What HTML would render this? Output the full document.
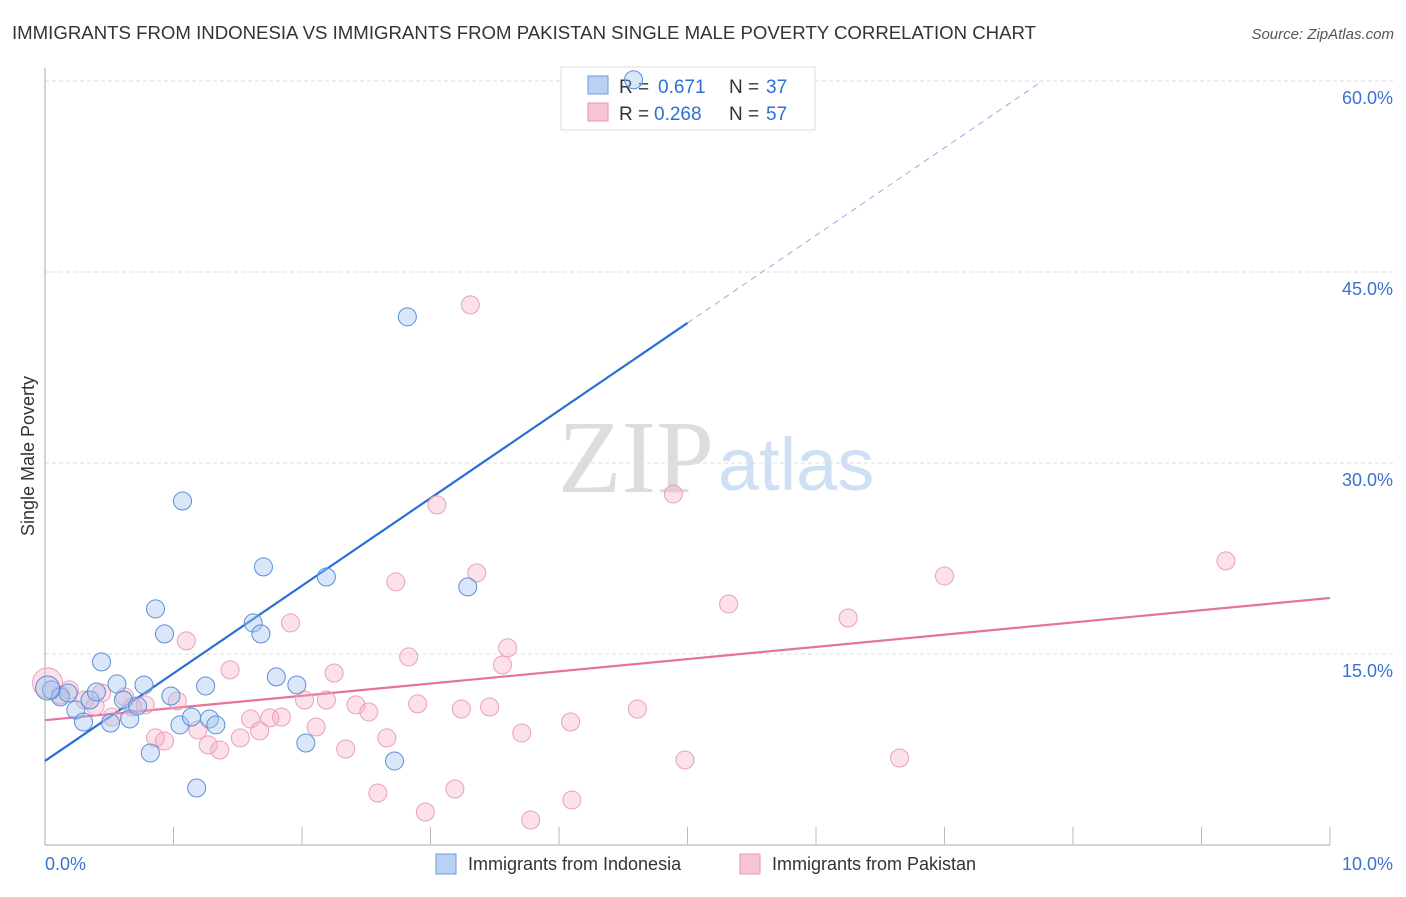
<!DOCTYPE html>
<html><head><meta charset="utf-8"><style>
body{margin:0;background:#fff;font-family:"Liberation Sans",sans-serif}
</style></head><body>
<svg width="1406" height="892" xmlns="http://www.w3.org/2000/svg">
<text x="12" y="39" font-size="18" fill="#333" textLength="1024" lengthAdjust="spacingAndGlyphs">IMMIGRANTS FROM INDONESIA VS IMMIGRANTS FROM PAKISTAN SINGLE MALE POVERTY CORRELATION CHART</text>
<text x="1394" y="39" font-size="15" fill="#555" font-style="italic" text-anchor="end">Source: ZipAtlas.com</text>
<text x="714" y="492" font-size="104" fill="#ddd" text-anchor="end" font-family="Liberation Serif">ZIP</text>
<text x="718" y="490" font-size="74" fill="#cfe0f4">atlas</text>
<g id="grid"></g>
<g id="axes"></g>
<g id="lines"></g>
<g>
<rect x="561" y="67" width="254" height="63" fill="#fff" stroke="#ddd"/>
<rect x="588" y="76" width="20" height="18" fill="#b9d2f4" stroke="#6f9ad8"/>
<rect x="588" y="103" width="20" height="18" fill="#f8c5d5" stroke="#e896b0"/>
<text x="619" y="93" font-size="19" fill="#333">R =</text>
<text x="658" y="93" font-size="19" fill="#2f6fd6">0.671</text>
<text x="729" y="93" font-size="19" fill="#333">N =</text>
<text x="766" y="93" font-size="19" fill="#2f6fd6">37</text>
<text x="619" y="120" font-size="19" fill="#333">R =</text>
<text x="654" y="120" font-size="19" fill="#2f6fd6">0.268</text>
<text x="729" y="120" font-size="19" fill="#333">N =</text>
<text x="766" y="120" font-size="19" fill="#2f6fd6">57</text>
</g>
<g id="pts"></g>
<text transform="translate(34,456) rotate(-90)" font-size="18" fill="#333" text-anchor="middle">Single Male Poverty</text>
<g>
<rect x="436" y="854" width="20" height="20" fill="#b9d2f4" stroke="#6f9ad8"/>
<text x="468" y="870" font-size="18" fill="#333">Immigrants from Indonesia</text>
<rect x="740" y="854" width="20" height="20" fill="#f8c5d5" stroke="#e896b0"/>
<text x="772" y="870" font-size="18" fill="#333">Immigrants from Pakistan</text>
</g>
</svg>
<script>
const yTicks=[15,30,45,60];
const yTickLabels=["15.0%","30.0%","45.0%","60.0%"];
const xEnds=["0.0%","10.0%"];
const indoX=[0.05,0.12,0.18,0.24,0.30,0.35,0.40,0.44,0.51,0.56,0.61,0.66,0.72,0.77,0.82,0.86,0.93,0.98,1.05,1.07,1.14,1.18,1.25,1.28,1.33,1.62,1.68,1.70,1.80,1.96,2.03,2.19,2.72,2.82,3.29,4.58,0.02];
const indoY=[12.18,11.63,11.94,10.60,9.66,11.39,12.02,14.38,9.58,12.65,11.39,9.90,10.92,12.57,7.23,18.54,16.58,11.70,9.43,27.02,10.05,4.48,12.49,9.90,9.43,17.44,16.58,21.84,13.20,12.57,8.01,21.05,6.60,41.48,20.27,60.1,12.33];
const pakX=[0.02,0.12,0.19,0.31,0.39,0.44,0.52,0.62,0.68,0.78,0.86,0.93,1.03,1.10,1.19,1.27,1.36,1.44,1.52,1.60,1.67,1.75,1.84,1.91,2.02,2.11,2.19,2.25,2.34,2.42,2.52,2.59,2.66,2.73,2.83,2.90,2.96,3.05,3.19,3.24,3.31,3.36,3.46,3.56,3.60,3.71,3.78,4.09,4.10,4.61,4.89,4.98,5.32,6.25,6.65,7.00,9.19];
const pakY=[12.73,11.78,12.18,11.39,10.92,11.94,10.05,11.63,10.84,11.00,8.41,8.17,11.31,16.03,9.03,7.86,7.46,13.75,8.41,9.90,8.96,9.98,10.05,17.44,11.39,9.27,11.39,13.51,7.54,11.00,10.45,4.08,8.41,20.66,14.77,11.08,2.59,26.71,4.40,10.68,42.42,21.37,10.84,14.14,15.48,8.80,1.96,9.66,3.53,10.68,27.57,6.68,18.93,17.83,6.83,21.13,22.31];
const indoTrend=[6.6,6.88];
const pakTrend=[9.8,0.96];
const X=v=>45+v*128.5, Y=v=>845-v*12.733;
const NS="http://www.w3.org/2000/svg";
function mk(tag,attrs,parent){const e=document.createElementNS(NS,tag);for(const k in attrs)e.setAttribute(k,attrs[k]);document.getElementById(parent).appendChild(e);return e;}
yTicks.forEach((t,i)=>{
 const g=mk('line',{x1:45,x2:1393,y1:Y(t),y2:Y(t),stroke:'#ddd','stroke-dasharray':'4,3'},'grid');
 
 
 const l=mk('text',{x:1393,y:Y(t)+23,'font-size':18,fill:'#3a72d0','text-anchor':'end'},'grid');
 l.textContent=yTickLabels[i];
 
 
});
mk('line',{x1:45,x2:45,y1:68,y2:845,stroke:'#aaa'},'axes');
mk('line',{x1:45,x2:1330,y1:845,y2:845,stroke:'#aaa'},'axes');
for(let i=1;i<=10;i++){const t=mk('line',{x1:X(i),x2:X(i),y1:827,y2:845,stroke:'#bbb'},'axes');}
let a=mk('text',{x:45,y:870,'font-size':18,fill:'#3a72d0'},'axes');a.textContent=xEnds[0];


a=mk('text',{x:1393,y:870,'font-size':18,fill:'#3a72d0','text-anchor':'end'},'axes');a.textContent=xEnds[1];


const fi=x=>indoTrend[0]+indoTrend[1]*x, fp=x=>pakTrend[0]+pakTrend[1]*x;
let l1=mk('line',{x1:X(0),y1:Y(fi(0)),x2:X(5),y2:Y(fi(5)),stroke:'#2a6fd6','stroke-width':2.2},'lines');


const xe=(60-indoTrend[0])/indoTrend[1];
let l2=mk('line',{x1:X(5),y1:Y(fi(5)),x2:X(xe),y2:Y(60),stroke:'#8fb0e0','stroke-width':1,'stroke-dasharray':'6,5'},'lines');


let l3=mk('line',{x1:X(0),y1:Y(fp(0)),x2:X(10),y2:Y(fp(10)),stroke:'#e5739a','stroke-width':2.2},'lines');


pakX.forEach((x,i)=>{const c=mk('circle',{cx:X(x),cy:Y(pakY[i]),r:i==0?15:9,fill:'rgba(245,170,195,0.35)',stroke:'#eaa0b8','stroke-width':1},'pts');
 
 });
indoX.forEach((x,i)=>{const c=mk('circle',{cx:X(x),cy:Y(indoY[i]),r:i==indoX.length-1?12:9,fill:'rgba(160,195,240,0.4)',stroke:'#5b8fd8','stroke-width':1},'pts');
 
 });
</script>
</body></html>
